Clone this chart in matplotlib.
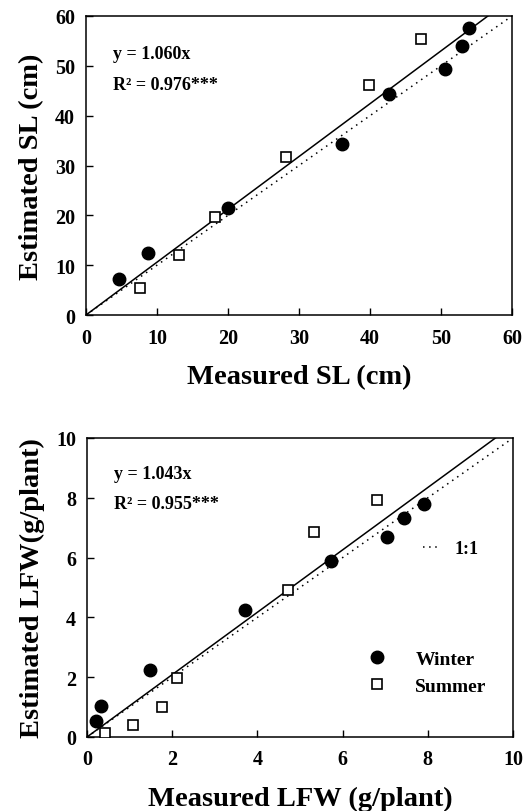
import numpy as np
import matplotlib
matplotlib.use('Agg')
import matplotlib.pyplot as plt

plt.rcParams['font.family'] = 'Liberation Serif'
plt.rcParams['font.weight'] = 'bold'

# SL panel (cm)
sl_winter_x = [4.6, 8.7, 20.0, 36.0, 42.7, 50.6, 52.9, 54.0]
sl_winter_y = [7.2, 12.4, 21.5, 34.4, 44.3, 49.4, 53.9, 57.5]
sl_summer_x = [7.6, 13.1, 18.2, 28.1, 39.8, 47.2]
sl_summer_y = [5.4, 12.1, 19.6, 31.7, 46.1, 55.3]
sl_slope = 1.060

# LFW panel (g/plant)
lfw_winter_x = [0.22, 0.34, 1.49, 3.71, 5.72, 7.05, 7.44, 7.92]
lfw_winter_y = [0.52, 1.04, 2.23, 4.24, 5.88, 6.68, 7.34, 7.80]
lfw_summer_x = [0.42, 1.08, 1.77, 2.12, 4.73, 5.32, 6.81]
lfw_summer_y = [0.14, 0.41, 1.00, 1.97, 4.91, 6.85, 7.91]
lfw_slope = 1.043

fig = plt.figure(figsize=(5.31, 8.12), dpi=100)
W, H = 531, 812
ax1 = fig.add_axes([86 / W, 1 - 316 / H, (512 - 86) / W, (316 - 17) / H])
ax2 = fig.add_axes([87 / W, 1 - 738 / H, (513 - 87) / W, (738 - 439) / H])


def panel(ax, wx, wy, sx, sy, slope, lim, step, xlabel, ylabel, eq, r2, ty):
    xs = np.array([0, lim])
    ax.plot(xs, slope * xs, color='black', lw=1.1, zorder=2)
    ax.plot(xs, xs, color='black', lw=1.1, ls=(0, (1, 3)), zorder=2, label='1:1')
    ax.plot(wx, wy, 'o', color='black', ms=9, ls='none', zorder=3, label='Winter')
    ax.plot(sx, sy, 's', mfc='white', mec='black', mew=1.2, ms=7.5, ls='none', zorder=3,
            label='Summer')
    ax.set_xlim(0, lim)
    ax.set_ylim(0, lim)
    ticks = np.arange(0, lim + step / 2, step)
    ax.set_xticks(ticks)
    ax.set_yticks(ticks)
    ax.tick_params(direction='in', length=5, width=1, labelsize=14.5, top=False, right=False)
    ax.tick_params(axis='x', pad=9)
    ax.tick_params(axis='y', pad=8)
    for lbl in ax.get_xticklabels() + ax.get_yticklabels():
        lbl.set_fontweight('bold')
    for s in ax.spines.values():
        s.set_linewidth(1.1)
    ax.set_xlabel(xlabel, fontsize=20.5, fontweight='bold', labelpad=12)
    ax.set_ylabel(ylabel, fontsize=20.5, fontweight='bold', labelpad=8)
    ax.text(0.063, ty[0], eq, transform=ax.transAxes, fontsize=13, fontweight='bold',
            va='center')
    ax.text(0.063, ty[1], r2, transform=ax.transAxes, fontsize=13, fontweight='bold',
            va='center')


panel(ax1, sl_winter_x, sl_winter_y, sl_summer_x, sl_summer_y, sl_slope, 60, 10,
      'Measured SL (cm)', 'Estimated SL (cm)', 'y = 1.060x', 'R² = 0.976***', (0.873, 0.77))
panel(ax2, lfw_winter_x, lfw_winter_y, lfw_summer_x, lfw_summer_y, lfw_slope, 10, 2,
      'Measured LFW (g/plant)', 'Estimated LFW(g/plant)', 'y = 1.043x',
      'R² = 0.955***', (0.88, 0.78))

h, l = ax2.get_legend_handles_labels()
leg1 = ax2.legend([h[0]], [l[0]], loc='center left', bbox_to_anchor=(0.789, 0.63),
                  frameon=False, fontsize=13, handlelength=1.0, handletextpad=0.75,
                  borderpad=0, borderaxespad=0)
ax2.add_artist(leg1)
ax2.legend(h[1:], l[1:], loc='center left', bbox_to_anchor=(0.659, 0.216), frameon=False,
           fontsize=14, handlelength=1.0, handletextpad=1.45, labelspacing=0.5,
           borderpad=0, borderaxespad=0)

fig.savefig('out.png', dpi=100)
